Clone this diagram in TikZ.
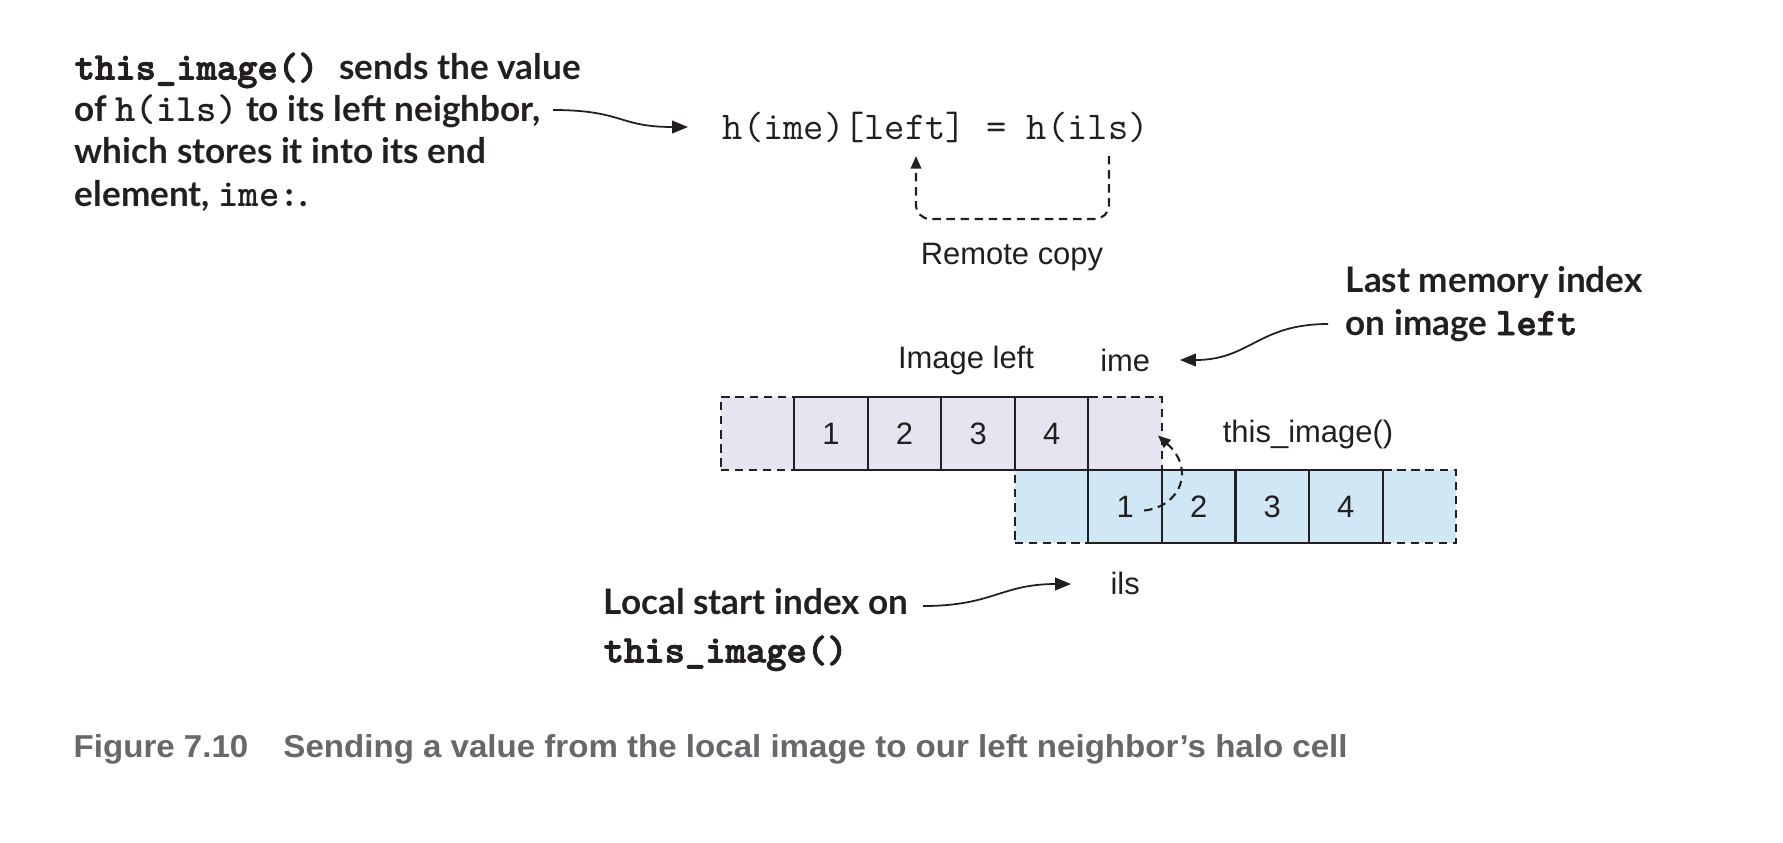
\documentclass[tikz,border=0pt]{standalone}
\usepackage{fontspec}
\usepackage{tikz}
\usetikzlibrary{arrows.meta,backgrounds,positioning,calc}

\newfontfamily\labelfont{Liberation Sans}
\newfontfamily\notefont{Lato}
\newfontfamily\capfont[FakeStretch=1.045]{Liberation Sans}
\newfontfamily\monobold[FakeBold=2.2]{lmmonolt10-bold.otf}
\newcommand{\mono}[1]{{\ttfamily\fontsize{11}{12}\selectfont #1}}
\newcommand{\monob}[1]{{\monobold\fontsize{11}{12}\selectfont #1}}

\definecolor{leftfill}{HTML}{E6E4F0}
\definecolor{thisfill}{HTML}{D0E7F6}
\definecolor{ink}{HTML}{231F20}
\definecolor{capgray}{HTML}{67686B}

\begin{document}
\begin{tikzpicture}[x=0.01cm, y=-0.01cm,
  cellbox/.style={draw=ink, line width=0.6pt, minimum width=0.735cm, minimum height=0.73cm, inner sep=0pt, outer sep=0pt, font=\labelfont\fontsize{8.8}{10}\selectfont, text=ink},
  halobox/.style={cellbox, dash pattern=on 2.4pt off 1.6pt},
  tag/.style={font=\labelfont\fontsize{8.8}{10}\selectfont, text=ink, inner sep=0pt},
  note/.style={font=\notefont\bfseries\fontsize{10}{12}\selectfont, text=ink, align=left, inner sep=0pt},
  codetext/.style={font=\ttfamily\fontsize{11.2}{12}\selectfont, text=ink, inner sep=0pt},
  pointer/.style={draw=ink, line width=0.5pt, -{Triangle[length=4.5pt,width=3.6pt]}},
  remote/.style={draw=ink, line width=0.6pt, dash pattern=on 2.4pt off 1.6pt, -{Triangle[length=3.6pt,width=3pt]}}]
\useasboundingbox (0,0) rectangle (1783,842);

% image left
\node (t1) [cellbox, fill=leftfill] at (831,433.5) {1};
\node (t2) [cellbox, fill=leftfill, right=0pt of t1] {2};
\node (t3) [cellbox, fill=leftfill, right=0pt of t2] {3};
\node (t4) [cellbox, fill=leftfill, right=0pt of t3] {4};

% this_image()
\node (b1) [cellbox, fill=thisfill, below right=0pt and 0pt of t4] {1};
\node (b2) [cellbox, fill=thisfill, right=0pt of b1] {2};
\node (b3) [cellbox, fill=thisfill, right=0pt of b2] {3};
\node (b4) [cellbox, fill=thisfill, right=0pt of b3] {4};

% halo cells
\begin{scope}[on background layer]
\node (t0) [halobox, fill=leftfill, left=0pt of t1] {};
\node (t5) [halobox, fill=leftfill, right=0pt of t4] {};
\node (b0) [halobox, fill=thisfill, left=0pt of b1] {};
\node (b5) [halobox, fill=thisfill, right=0pt of b4] {};
\end{scope}

\node (imgleft) [tag] at (966,360) {Image left};
\node (ime) [tag] at (t5 |- imgleft) {ime};
\node (thisimg) [tag] at (1308,434) {this\_image()};
\node (ils) [tag] at (b1 |- 0,583) {ils};

\node (eq) [codetext, anchor=west] at (722,127) {h(ime)[left] = h(ils)};
\node (rc) [tag] at (1012,257) {Remote copy};

\node (send) [note, anchor=north west] at (74,52) {\monob{this\_image()}\hspace{0.6em}sends the value\\of \mono{h(ils)} to its left neighbor,\\which stores it into its end\\element, \mono{ime:}.};
\node (last) [note, anchor=north west] at (1345,266) {Last memory index\\on image \monob{left}};
\node (local) [note, anchor=north west] at (603,588) {Local start index on\\[1.5pt]\monob{this\_image()}};

\node (caption) [anchor=base west, font=\capfont\bfseries\fontsize{9}{11}\selectfont, text=capgray, inner sep=0pt] at (73,757) {Figure 7.10\hspace{10pt}Sending a value from the local image to our left neighbor’s halo cell};

\coordinate (rsrc) at (1109,156);
\coordinate (rdst) at (916,156);
\coordinate (hsrc) at ($(b1.center)+(19,4)$);
\coordinate (hdst) at ($(t5.east)+(-4,2)$);
\coordinate (sendout) at (553,110);
\coordinate (eqin) at ($(eq.west)+(-34,0)$);
\coordinate (lastout) at (1328,324);
\coordinate (imein) at (1180,360);
\coordinate (localout) at (923,606);
\coordinate (ilsin) at (1071,584);

\draw [remote, rounded corners=4pt] (rsrc) -- ++(0,63) -| (rdst);
\draw [remote] (hsrc) .. controls +(36,-4) and +(38,34) .. (hdst);
\draw [pointer] (sendout) .. controls +(70,0) and +(-70,0) .. (eqin);
\draw [pointer] (lastout) .. controls +(-70,0) and +(70,0) .. (imein);
\draw [pointer] (localout) .. controls +(70,0) and +(-70,0) .. (ilsin);
\end{tikzpicture}
\end{document}
